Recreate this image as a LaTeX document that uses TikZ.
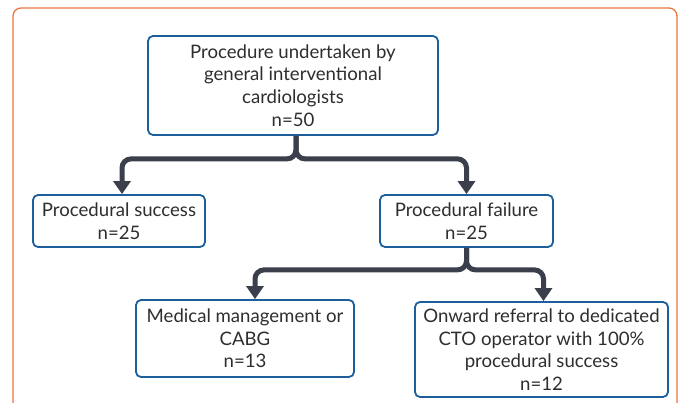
\documentclass[tikz,border=0pt]{standalone}
\usepackage{fontspec}
\setmainfont{Lato}
\usepackage{xcolor}
\usepackage[]{tikz}
\usetikzlibrary{positioning,arrows.meta}
\definecolor{frameorange}{HTML}{E9773D}
\definecolor{boxblue}{HTML}{1D5E9C}
\definecolor{flowgray}{HTML}{3A3F4B}
\definecolor{textgray}{HTML}{2E2E2E}
\tikzset{box node/.style={draw=boxblue,line width=1.8pt,rounded corners=5pt,fill=white,align=center,text=textgray,font=\fontsize{18.6}{22.6}\selectfont,inner sep=0pt}}
\tikzset{flow/.style={draw=flowgray,line width=5pt,rounded corners=9pt,-{Triangle[length=13pt,width=17pt]}}}

\begin{document}
\begin{tikzpicture}[x=1pt, y=1pt, on grid]
      \clip (0,0) rectangle (681,-403);
      \draw[frameorange, line width=1.3pt, rounded corners=8pt] (13,-420) rectangle (677,-8);
      \node[box node, minimum width=290pt, minimum height=99pt] (top) at (293,-85.5) {Procedure undertaken by\\general interventional\\cardiologists\\n=50};
      \node[box node, minimum width=172pt, minimum height=52pt] (success) [below left = 135.5pt and 174pt of top] {Procedural success\\n=25};
      \node[box node, minimum width=173pt, minimum height=52pt] (failure) [below right = 135.5pt and 173.5pt of top] {Procedural failure\\n=25};
      \node[box node, minimum width=218pt, minimum height=77pt] (medical) [below left = 117.5pt and 221.5pt of failure] {Medical management or\\CABG\\n=13};
      \node[box node, minimum width=253pt, minimum height=95pt] (onward) [below right = 128.5pt and 75pt of failure] {Onward referral to dedicated\\CTO operator with 100\%\\procedural success\\n=12};
      \draw[flow] ([xshift=3pt]top.south) -- ++(0,-23) -| ([xshift=3pt]success.north);
      \draw[flow] ([xshift=3pt]top.south) -- ++(0,-23) -| (failure.north);
      \draw[flow] (failure.south) -- ++(0,-22) -| ([xshift=10pt]medical.north);
      \draw[flow] (failure.south) -- ++(0,-22) -| ([xshift=2pt]onward.north);
    \end{tikzpicture}
\end{document}
